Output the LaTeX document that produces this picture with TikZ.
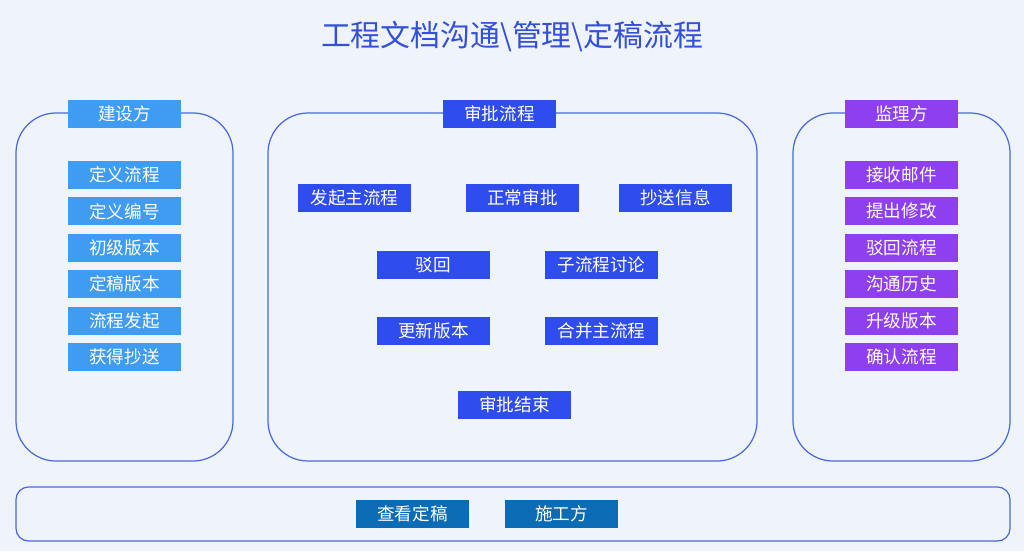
\documentclass[tikz,border=0pt]{standalone}
\usepackage{fontspec}
\setmainfont{Noto Sans CJK SC}
\usetikzlibrary{positioning}
\definecolor{bgc}{HTML}{EEF3FC}
\definecolor{framec}{HTML}{4A68E0}
\definecolor{lblue}{HTML}{3F9CF2}
\definecolor{dblue}{HTML}{2F4CEE}
\definecolor{purp}{HTML}{8E3FF0}
\definecolor{sea}{HTML}{0B6CB5}
\definecolor{titlec}{HTML}{3450D8}
\begin{document}
\begin{tikzpicture}[x=0.02cm,y=-0.02cm]
\tikzset{
  panel/.style={draw=framec,line width=0.7pt,rounded corners=0.8cm},
  tag/.style={fill=#1,text=white,minimum width=2.26cm,minimum height=0.56cm,inner sep=0pt,font=\fontsize{10}{12}\selectfont},
}
\useasboundingbox (0,0) rectangle (1024,551);
\fill[bgc] (0,0) rectangle (1024,551);
\node[text=titlec,font=\fontsize{17}{20}\selectfont] (title) at (512,37) {工程文档沟通\textbackslash 管理\textbackslash 定稿流程};
% panels
\draw[panel] (16,113) rectangle (233,461);
\draw[panel] (268,113) rectangle (757,461);
\draw[panel] (793,113) rectangle (1010,461);
\draw[draw=framec,line width=0.7pt,rounded corners=0.25cm] (16,487) rectangle (1010,541);
% left
\node[tag=lblue] (jsf) at (124.5,114) {建设方};
\foreach \t [count=\i] in {定义流程,定义编号,初级版本,定稿版本,流程发起,获得抄送}
  \node[tag=lblue] (l\i) at (124.5,138.5+36.4*\i) {\t};
% middle
\node[tag=dblue] (spl) at (499.5,114) {审批流程};
\node[tag=dblue] (fq) at (354.5,198) {发起主流程};
\node[tag=dblue] (zc) at (522.5,198) {正常审批};
\node[tag=dblue] (cs) at (675.5,198) {抄送信息};
\node[tag=dblue] (bh) at (433.5,265) {驳回};
\node[tag=dblue] (zl) at (601.5,265) {子流程讨论};
\node[tag=dblue] (gx) at (433.5,331) {更新版本};
\node[tag=dblue] (hb) at (601.5,331) {合并主流程};
\node[tag=dblue] (js) at (514.5,405) {审批结束};
% right
\node[tag=purp] (jlf) at (901.5,114) {监理方};
\foreach \t [count=\i] in {接收邮件,提出修改,驳回流程,沟通历史,升级版本,确认流程}
  \node[tag=purp] (r\i) at (901.5,138.5+36.4*\i) {\t};
% bottom
\node[tag=sea] (ck) at (412.5,514) {查看定稿};
\node[tag=sea] (sgf) at (561.5,514) {施工方};
\end{tikzpicture}
\end{document}
